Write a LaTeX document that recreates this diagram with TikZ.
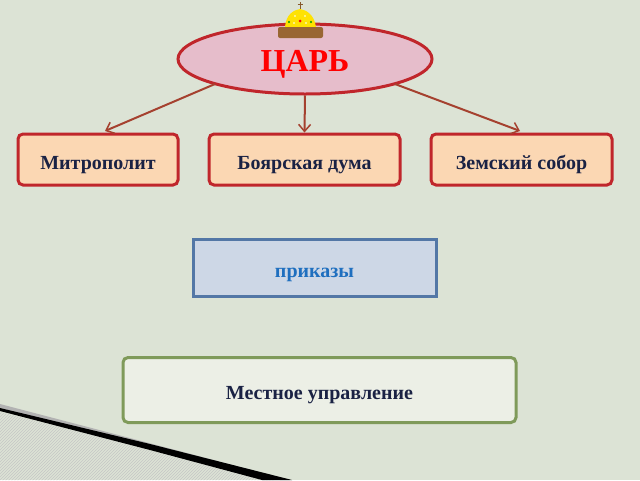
\documentclass[tikz,border=0pt]{standalone}
\usepackage{fontspec}
\setmainfont{Liberation Serif}
\usetikzlibrary{shapes.geometric,arrows.meta,patterns}
\definecolor{bg}{HTML}{DCE3D5}
\definecolor{arr}{HTML}{A5412F}
\definecolor{red1}{HTML}{C0262B}
\definecolor{boxf}{HTML}{FBD7B3}
\definecolor{txt}{HTML}{1A2244}
\definecolor{pinkf}{HTML}{E6BDCB}
\tikzset{
 low/.style={text height=19pt,text depth=0pt},
 box/.style={low,draw=red1,line width=3pt,rounded corners=5pt,fill=boxf,font=\bfseries\fontsize{20}{22}\selectfont,text=txt},
 con/.style={draw=arr,line width=2pt,-{Straight Barb[length=7pt,width=12pt,line width=1.5pt]}}
}
\begin{document}
\begin{tikzpicture}[x=1pt,y=-1pt]
\fill[bg] (0,0) rectangle (640,480);
\useasboundingbox (0,0) rectangle (640,480);
% decoration bottom left
\fill[white,pattern=north east lines,pattern color=gray!45] (0,412) -- (275,480) -- (0,480) -- cycle;
\fill[gray!60] (0,404) -- (290,480) -- (280,480) -- (0,408) -- cycle;
\fill[black] (0,408) -- (150,444) -- (292,480) -- (262,480) -- (150,450) -- (0,411) -- cycle;
\node[ellipse,draw=red1,line width=3pt,fill=pinkf,minimum width=254pt,minimum height=70pt,font=\bfseries\fontsize{32}{34}\selectfont,text=red,inner sep=0pt,text height=24pt,text depth=0pt] (tsar) at (305,59) {ЦАРЬ};
% crown
\fill[yellow!85!orange] (285,27) .. controls (286,14) and (294,10) .. (300,9) .. controls (306,10) and (314,14) .. (316,27) -- cycle;
\draw[brown!70!black] (300,2) -- (300,9) (297.5,4.5) -- (302.5,4.5);
\fill[red] (300,21) circle (1.5pt); \fill[green!60!black] (289,22) circle (1.2pt); \fill[green!60!black] (311,22) circle (1.2pt);
\fill[white] (295,16) circle (0.9pt) (305,16) circle (0.9pt) (294,23) circle (0.9pt) (306,23) circle (0.9pt);
\fill[brown!80!black,rounded corners=2pt] (278,27) rectangle (323,38);
\node[box,minimum width=160pt,minimum height=51pt] (m) at (98,159.5) {Митрополит};
\node[box,minimum width=191pt,minimum height=51pt] (b) at (304.5,159.5) {Боярская дума};
\node[box,minimum width=181pt,minimum height=51pt] (z) at (521.5,159.5) {Земский собор};
\node[low,draw={rgb,255:red,83;green,119;blue,166},line width=3pt,fill={rgb,255:red,205;green,215;blue,230},minimum width=243pt,minimum height=57pt,font=\bfseries\fontsize{20}{22}\selectfont,text={rgb,255:red,31;green,111;blue,191}] (p) at (314.5,267.5) {приказы};
\node[low,draw={rgb,255:red,127;green,154;blue,90},line width=3pt,rounded corners=5pt,fill={rgb,255:red,236;green,239;blue,230},minimum width=393pt,minimum height=65pt,font=\bfseries\fontsize{20}{22}\selectfont,text=txt] (l) at (319.5,390) {Местное управление};
\coordinate (a1) at (215,84); \coordinate (a2) at (395,84);
\draw[con] (a1) -- (105,131);
\draw[con] (tsar.south) -- (b.north);
\draw[con] (a2) -- (520,131);
\end{tikzpicture}
\end{document}
